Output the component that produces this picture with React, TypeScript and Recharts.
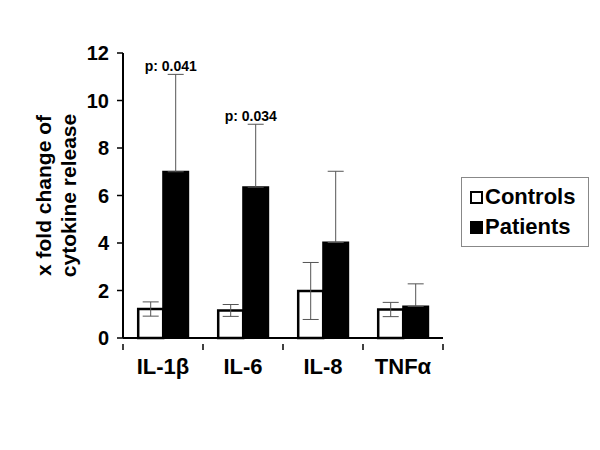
import { BarChart, Bar, XAxis, YAxis, ErrorBar, Legend, LabelList } from 'recharts'

const categories = ['IL-1β', 'IL-6', 'IL-8', 'TNFα']
const controls = [1.22, 1.16, 1.98, 1.2]
const controlsErr = [0.3, 0.25, 1.2, 0.3]
const patients = [7.0, 6.35, 4.02, 1.33]
const patientsErr = [4.1, 2.65, 3.0, 0.95]
const pLabels = ['p: 0.041', 'p: 0.034', '', '']
const yTicks = [0, 2, 4, 6, 8, 10, 12]

const data = categories.map((name, i) => ({
  name,
  controls: controls[i],
  patients: patients[i],
  cErr: [controlsErr[i], controlsErr[i]],
  pErr: [0, patientsErr[i]],
  p: pLabels[i],
}))

const FONT = '"Liberation Sans", Arial, sans-serif'

const PLabel = (props: any) => {
  const { x, y, width, height, index, value } = props
  if (!value) return null
  // error bar top, using the bar's own pixels-per-unit
  const perUnit = height / patients[index]
  const top = y - patientsErr[index] * perUnit
  return (
    <text
      x={x + width / 2 - 5}
      y={top - 3}
      textAnchor="middle"
      fontFamily={FONT}
      fontWeight="bold"
      fontSize={14}
      fill="#000"
    >
      {value}
    </text>
  )
}

// category label plus Excel-style tick marks on the category boundaries
const CatTick = (props: any) => {
  const { x, y, payload, index, visibleTicksCount } = props
  const half = payload.offset || 0
  const axisY = y - 10
  return (
    <g>
      <line x1={x - half} x2={x - half} y1={axisY} y2={axisY + 6} stroke="#000" strokeWidth={1.5} />
      {index === visibleTicksCount - 1 && (
        <line x1={x + half} x2={x + half} y1={axisY} y2={axisY + 6} stroke="#000" strokeWidth={1.5} />
      )}
      <text
        x={x}
        y={y}
        dy="0.9em"
        textAnchor="middle"
        fontFamily={FONT}
        fontWeight="bold"
        fontSize={22}
        fill="#000"
      >
        {payload.value}
      </text>
    </g>
  )
}

const YTitle = (props: any) => {
  const { viewBox } = props
  const cy = viewBox.y + viewBox.height / 2
  return (
    <g fontFamily={FONT} fontWeight="bold" fontSize={21} fill="#000">
      <text x={43} y={cy} transform={`rotate(-90 43 ${cy})`} textAnchor="middle" dominantBaseline="central">
        x fold change of
      </text>
      <text x={68} y={cy} transform={`rotate(-90 68 ${cy})`} textAnchor="middle" dominantBaseline="central">
        cytokine release
      </text>
    </g>
  )
}

const LegendBox = () => {
  const items = [
    { label: 'Controls', fill: '#fff' },
    { label: 'Patients', fill: '#000' },
  ]
  return (
    <div
      style={{
        width: 128,
        height: 70,
        border: '1px solid #888',
        boxSizing: 'border-box',
        paddingLeft: 8,
        paddingTop: 4,
        fontFamily: FONT,
        fontWeight: 'bold',
        fontSize: 22,
      }}
    >
      {items.map((it) => (
        <div key={it.label} style={{ display: 'flex', alignItems: 'center', height: 30 }}>
          <span
            style={{
              display: 'inline-block',
              width: 9,
              height: 9,
              border: '2px solid #000',
              background: it.fill,
              marginRight: 2,
            }}
          />
          <span>{it.label}</span>
        </div>
      ))}
    </div>
  )
}

export default function App() {
  return (
    <div style={{ position: 'absolute', left: 0, top: 0, width: 600, height: 450, background: '#fff' }}>
      <BarChart
        width={600}
        height={450}
        data={data}
        margin={{ top: 53, right: 29, bottom: 72, left: 0 }}
        barCategoryGap="19%"
        barGap={0}
      >
        <XAxis
          dataKey="name"
          height={40}
          interval={0}
          axisLine={{ stroke: '#000', strokeWidth: 2 }}
          tickLine={false}
          tickMargin={10}
          tick={<CatTick />}
        />
        <YAxis
          width={123}
          domain={[0, 12]}
          ticks={yTicks}
          interval={0}
          axisLine={{ stroke: '#000', strokeWidth: 2 }}
          tickLine={{ stroke: '#000', strokeWidth: 1.5 }}
          tickSize={6}
          tickMargin={8}
          tick={{ fontFamily: FONT, fontWeight: 'bold', fontSize: 20, fill: '#000' }}
          label={<YTitle />}
        />
        <Legend
          layout="vertical"
          align="right"
          verticalAlign="top"
          content={<LegendBox />}
          wrapperStyle={{ left: 461, top: 177, width: 128, height: 70 }}
        />
        <Bar dataKey="controls" fill="#fff" stroke="#000" strokeWidth={2.5} isAnimationActive={false}>
          <ErrorBar dataKey="cErr" width={8} stroke="#555" strokeWidth={1} direction="y" />
        </Bar>
        <Bar dataKey="patients" fill="#000" stroke="#000" strokeWidth={2} isAnimationActive={false}>
          <ErrorBar dataKey="pErr" width={8} stroke="#555" strokeWidth={1} direction="y" />
          <LabelList dataKey="p" content={<PLabel />} />
        </Bar>
      </BarChart>
    </div>
  )
}
